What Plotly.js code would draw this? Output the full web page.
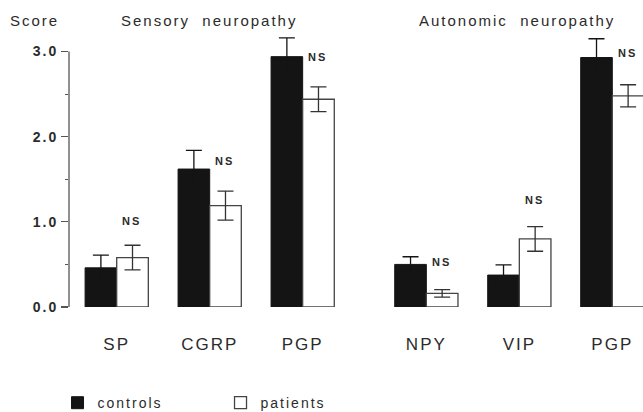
<!DOCTYPE html>
<html>
<head>
<meta charset="utf-8">
<script src="https://cdn.plot.ly/plotly-3.0.1.min.js"></script>
<style>
  html, body { margin: 0; padding: 0; background: #fff; }
  #chart { width: 643px; height: 412px; }
  svg text { letter-spacing: 2px; }
</style>
</head>
<body>
<div id="chart"></div>
<script>
// ---- data ----
const sensoryLabels = ['SP', 'CGRP', 'PGP'];
const autonomicLabels = ['NPY', 'VIP', 'PGP'];
const categories = sensoryLabels.concat(autonomicLabels);

const controls    = [0.46, 1.62, 2.94, 0.50, 0.375, 2.93];
const controlsErr = [0.15, 0.22, 0.22, 0.09, 0.12, 0.22];
const patients    = [0.58, 1.19, 2.44, 0.16, 0.80, 2.48];
const patientsErr = [0.145, 0.17, 0.145, 0.045, 0.145, 0.13];

const nsLabels = ['NS', 'NS', 'NS', 'NS', 'NS', 'NS'];
const nsY      = [1.01, 1.71, 2.94, 0.53, 1.26, 2.98];

const yTickVals = [0, 1, 2, 3];
const yTickText = ['0.0', '1.0', '2.0', '3.0'];

// ---- layout helpers ----
const groupGap = 1.33;
const xPos = categories.map((c, i) => i < sensoryLabels.length ? i : i - 1 + groupGap);

const textColor = '#2b2b2b';
const font = {family: 'Liberation Sans, Arial, sans-serif', color: textColor};
const dark = '#141414';

const traces = [
  {
    type: 'bar', name: 'controls', x: xPos, y: controls,
    marker: {color: dark, line: {color: dark, width: 1}},
    error_y: {type: 'data', array: controlsErr, visible: true, color: dark, thickness: 1.3, width: 8}
  },
  {
    type: 'bar', name: 'patients', x: xPos, y: patients,
    marker: {color: '#ffffff', line: {color: '#444', width: 1.3}},
    error_y: {type: 'data', array: patientsErr, visible: true, color: '#333', thickness: 1.3, width: 8}
  }
];

const annotations = nsLabels.map((t, i) => ({
  text: t, x: xPos[i] + 0.16, y: nsY[i], xref: 'x', yref: 'y',
  showarrow: false, xanchor: 'center', yanchor: 'middle',
  font: Object.assign({}, font, {size: 11, weight: 'bold'})
}));
annotations.push(
  {text: 'Score', xref: 'paper', yref: 'paper', x: -0.106, y: 1.021, xanchor: 'left', yanchor: 'middle',
   showarrow: false, font: Object.assign({}, font, {size: 15})},
  {text: 'Sensory  neuropathy', xref: 'paper', yref: 'paper', x: 0.244, y: 1.021, xanchor: 'center', yanchor: 'middle',
   showarrow: false, font: Object.assign({}, font, {size: 15})},
  {text: 'Autonomic  neuropathy', xref: 'paper', yref: 'paper', x: 0.781, y: 1.021, xanchor: 'center', yanchor: 'middle',
   showarrow: false, font: Object.assign({}, font, {size: 15})}
);

const layout = {
  width: 643, height: 412,
  margin: {l: 69, r: 0, t: 26, b: 105, autoexpand: false},
  paper_bgcolor: '#fff', plot_bgcolor: '#fff',
  barmode: 'group', bargap: 0.32, bargroupgap: 0,
  showlegend: true,
  legend: {orientation: 'h', x: -0.02, xanchor: 'left', y: -0.342, yanchor: 'middle',
           entrywidth: 118, entrywidthmode: 'pixels',
           font: Object.assign({}, font, {size: 14}), traceorder: 'normal'},
  xaxis: {
    range: [-0.513, 5.66], showgrid: false, zeroline: false, showline: false, ticks: '',
    tickvals: xPos, ticktext: categories, ticklabelstandoff: 25, automargin: false,
    tickfont: Object.assign({}, font, {size: 17})
  },
  yaxis: {
    range: [0, 3.3], showgrid: false, zeroline: false, showline: false, automargin: false,
    tickvals: yTickVals, ticktext: yTickText, ticks: 'outside', ticklen: 7, tickwidth: 1.2, tickcolor: '#555',
    tickfont: Object.assign({}, font, {size: 14, weight: 'bold'}),
    minor: {tickvals: [0.5, 1.5, 2.5], ticks: 'outside', ticklen: 3, tickwidth: 1.2, tickcolor: '#555'}
  },
  shapes: [
    {type: 'line', xref: 'paper', yref: 'y', x0: 0, x1: 0, y0: 0, y1: 3, line: {color: '#555', width: 1.3}}
  ],
  annotations: annotations
};

Plotly.newPlot('chart', traces, layout, {displayModeBar: false, staticPlot: true});
</script>
</body>
</html>
